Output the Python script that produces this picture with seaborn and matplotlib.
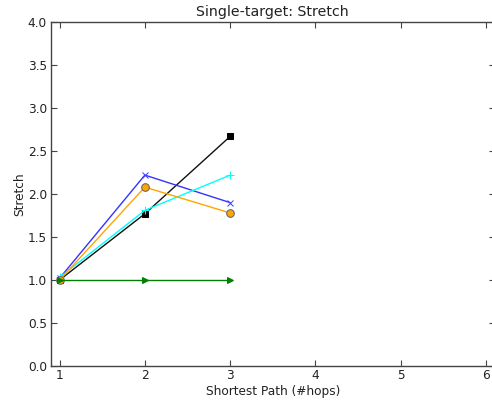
import matplotlib
matplotlib.use("Agg")
import matplotlib.pyplot as plt
import seaborn as sns
import pandas as pd

hops = [1, 2, 3]
stretch_black = [1.00, 1.77, 2.67]
stretch_blue = [1.02, 2.22, 1.90]
stretch_cyan = [1.03, 1.81, 2.22]
stretch_orange = [1.00, 2.08, 1.78]
stretch_green = [1.00, 1.00, 1.00]

sns.set_style("white")
plt.rcParams["font.family"] = ["DejaVu Sans"]

fig = plt.figure(figsize=(4.92, 4.01), dpi=100)
ax = fig.add_axes([0.1037, 0.0873, 0.9016, 0.8577])

series = [
    (stretch_black, "#111111", "s", dict(markerfacecolor="black", markeredgecolor="black", markersize=5)),
    (stretch_blue, "#3333ff", "x", dict(markeredgecolor="#4444ff", markersize=5)),
    (stretch_cyan, "cyan", "+", dict(markeredgecolor="cyan", markersize=6)),
    (stretch_orange, "orange", "o", dict(markerfacecolor="orange", markeredgecolor="#666666", markersize=5.5)),
    (stretch_green, "green", ">", dict(markerfacecolor="green", markeredgecolor="green", markersize=5)),
]

for vals, color, marker, kw in series:
    df = pd.DataFrame({"hops": hops, "stretch": vals})
    sns.lineplot(data=df, x="hops", y="stretch", color=color, marker=marker,
                 linewidth=1.0, ax=ax, **kw)

ax.set_xlim(0.9, 6.1)
ax.set_ylim(0.0, 4.0)
ax.set_xticks([1, 2, 3, 4, 5, 6])
ax.set_yticks([0.0, 0.5, 1.0, 1.5, 2.0, 2.5, 3.0, 3.5, 4.0])
ax.set_yticklabels([f"{v:.1f}" for v in ax.get_yticks()])
ax.tick_params(direction="in", length=4, width=0.8, top=True, right=True,
               bottom=True, left=True, labelsize=8.7, colors="#444444",
               labelcolor="#222222")
ax.tick_params(axis="x", pad=2)
ax.tick_params(axis="y", pad=3)
for s in ax.spines.values():
    s.set_color("#444444")
    s.set_linewidth(1.0)
ax.set_xlabel("Shortest Path (#hops)", fontsize=8.7, labelpad=2, color="#222222")
ax.set_ylabel("Stretch", fontsize=8.7, labelpad=1, color="#222222")
ax.set_title("Single-target: Stretch", fontsize=10.2, pad=4, color="#222222")

fig.savefig("out.png", dpi=100)
